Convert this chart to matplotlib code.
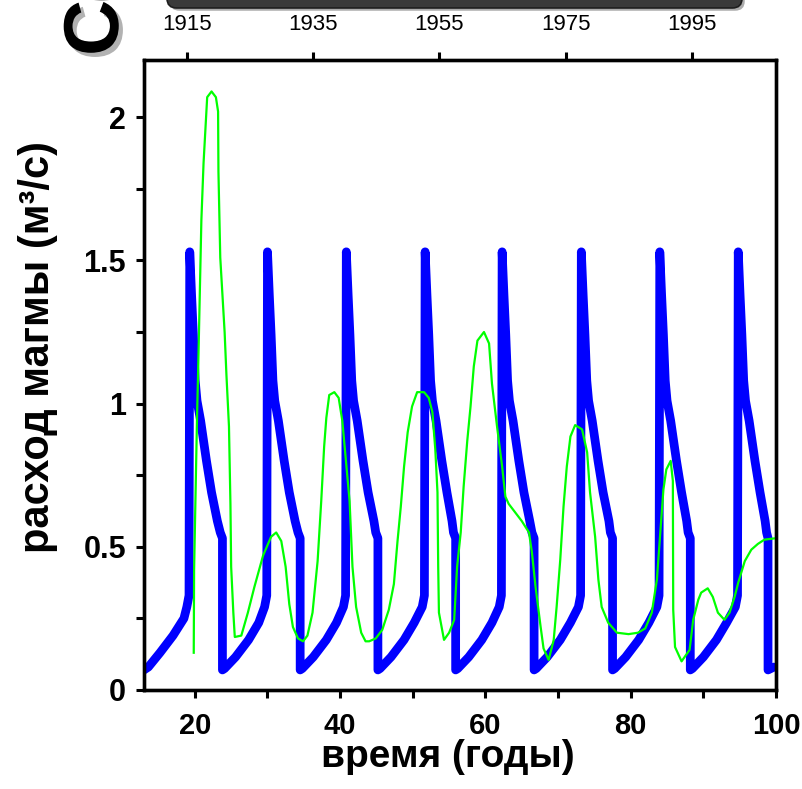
import matplotlib
matplotlib.use('Agg')
import matplotlib.pyplot as plt
import matplotlib.patheffects as pe
from matplotlib.patches import FancyBboxPatch
from matplotlib.ticker import MultipleLocator

# model magma discharge (blue, thick)
blue_t = [13.0, 13.6, 15.2, 17.0, 18.5, 18.9, 19.2,
          19.3, 19.55, 19.8, 20.05, 20.3, 20.8, 21.6, 22.3, 23.1, 23.5, 23.8, 23.8,
          24.1, 25.6, 27.4, 28.8, 29.6, 29.9,
          30.0, 30.25, 30.5, 30.75, 31.0, 31.5, 32.3, 33.0, 33.8, 34.2, 34.5, 34.5,
          34.8, 36.3, 38.1, 39.5, 40.45, 40.75,
          40.85, 41.1, 41.35, 41.6, 41.85, 42.35, 43.15, 43.85, 44.65, 44.9, 45.2, 45.2,
          45.5, 47.0, 48.8, 50.2, 51.3, 51.6,
          51.7, 51.95, 52.2, 52.45, 52.7, 53.2, 54.0, 54.7, 55.4, 55.6, 55.9, 55.9,
          56.2, 57.7, 59.5, 60.9, 61.9, 62.2,
          62.3, 62.55, 62.8, 63.05, 63.3, 63.8, 64.6, 65.3, 66.1, 66.4, 66.7, 66.7,
          67.0, 68.5, 70.3, 71.7, 72.8, 73.1,
          73.2, 73.45, 73.7, 73.95, 74.2, 74.7, 75.5, 76.2, 77.0, 77.2, 77.5, 77.5,
          77.8, 79.3, 81.1, 82.5, 83.6, 83.9,
          84.0, 84.25, 84.5, 84.75, 85.0, 85.5, 86.3, 87.0, 87.7, 87.9, 88.2, 88.2,
          88.5, 90.0, 91.8, 93.2, 94.4, 94.7,
          94.8, 95.05, 95.3, 95.55, 95.8, 96.3, 97.1, 97.8, 98.5, 98.7, 98.9, 98.9,
          99.3, 99.7]
blue_q = [0.07, 0.08, 0.13, 0.19, 0.25, 0.29, 0.33,
          1.53, 1.38, 1.24, 1.08, 1.01, 0.94, 0.80, 0.69, 0.59, 0.55, 0.53, 0.07,
          0.075, 0.115, 0.175, 0.235, 0.29, 0.33,
          1.53, 1.38, 1.24, 1.08, 1.01, 0.94, 0.80, 0.69, 0.59, 0.55, 0.53, 0.07,
          0.075, 0.115, 0.175, 0.235, 0.29, 0.33,
          1.53, 1.38, 1.24, 1.08, 1.01, 0.94, 0.80, 0.69, 0.59, 0.55, 0.53, 0.07,
          0.075, 0.115, 0.175, 0.235, 0.29, 0.33,
          1.53, 1.38, 1.24, 1.08, 1.01, 0.94, 0.80, 0.69, 0.59, 0.55, 0.53, 0.07,
          0.075, 0.115, 0.175, 0.235, 0.29, 0.33,
          1.53, 1.38, 1.24, 1.08, 1.01, 0.94, 0.80, 0.69, 0.59, 0.55, 0.53, 0.07,
          0.075, 0.115, 0.175, 0.235, 0.29, 0.33,
          1.53, 1.38, 1.24, 1.08, 1.01, 0.94, 0.80, 0.69, 0.59, 0.55, 0.53, 0.07,
          0.075, 0.115, 0.175, 0.235, 0.29, 0.33,
          1.53, 1.38, 1.24, 1.08, 1.01, 0.94, 0.80, 0.69, 0.59, 0.55, 0.53, 0.07,
          0.075, 0.115, 0.175, 0.235, 0.29, 0.33,
          1.53, 1.38, 1.24, 1.08, 1.01, 0.94, 0.80, 0.69, 0.59, 0.55, 0.53, 0.07,
          0.075, 0.08]

# observed discharge (green, thin)
green_t = [19.85, 19.9, 20.1, 20.3, 20.46, 20.9, 21.2, 21.7, 22.3, 22.9, 23.2, 23.25,
           23.5, 24.1, 24.35, 24.7, 24.9, 25.0, 25.3, 25.5, 26.4, 27.3, 28.2, 29.4,
           30.5, 31.2, 31.9, 32.5, 33.0, 33.5, 34.2, 34.9, 35.5, 36.2, 36.9, 37.4,
           37.8, 38.1, 38.5, 39.2, 39.8, 40.3, 40.8, 41.3, 41.7, 42.2, 42.9, 43.5,
           44.0, 44.9, 45.8, 46.7, 47.4, 47.9, 48.35, 48.8, 49.3, 49.9, 50.6, 51.55,
           52.2, 52.7, 53.1, 53.4, 53.5, 53.6, 54.3, 55.0, 55.7, 56.1, 56.6, 57.0,
           57.5, 57.95, 58.4, 58.9, 59.8, 60.5, 60.9, 61.6, 62.3, 62.75, 63.2, 64.1,
           65.0, 66.0, 66.4, 66.9, 67.6, 68.0, 68.7, 69.4, 69.8, 70.3, 70.75, 71.2,
           71.7, 72.35, 73.3, 74.0, 74.4, 75.1, 75.55, 76.0, 76.9, 78.1, 79.7, 81.0,
           82.0, 82.9, 83.6, 84.0, 84.5, 84.9, 85.5, 85.8, 85.85, 86.1, 87.0, 88.1,
           88.6, 89.3, 89.7, 90.6, 91.3, 92.0, 92.9, 93.6, 94.3, 94.8, 95.7, 96.6,
           97.5, 98.4, 100.0]
green_q = [0.13, 0.42, 0.69, 0.95, 1.12, 1.64, 1.84, 2.07, 2.09, 2.07, 2.02, 1.81,
           1.51, 1.25, 1.10, 0.92, 0.65, 0.43, 0.27, 0.185, 0.19, 0.27, 0.36, 0.47,
           0.535, 0.55, 0.52, 0.43, 0.30, 0.22, 0.18, 0.17, 0.19, 0.27, 0.45, 0.66,
           0.85, 0.95, 1.03, 1.04, 1.02, 0.94, 0.80, 0.66, 0.43, 0.29, 0.20, 0.17,
           0.17, 0.18, 0.21, 0.28, 0.37, 0.52, 0.64, 0.78, 0.90, 0.99, 1.04, 1.04,
           1.02, 0.97, 0.84, 0.69, 0.43, 0.27, 0.175, 0.20, 0.245, 0.43, 0.55, 0.71,
           0.87, 0.99, 1.13, 1.22, 1.25, 1.21, 1.07, 0.92, 0.78, 0.675, 0.65, 0.62,
           0.59, 0.55, 0.48, 0.36, 0.22, 0.145, 0.105, 0.175, 0.29, 0.455, 0.64, 0.78,
           0.885, 0.925, 0.91, 0.83, 0.69, 0.535, 0.385, 0.29, 0.235, 0.20, 0.195, 0.20,
           0.215, 0.27, 0.385, 0.525, 0.70, 0.77, 0.80, 0.73, 0.28, 0.15, 0.10, 0.14,
           0.245, 0.315, 0.34, 0.355, 0.325, 0.27, 0.245, 0.27, 0.325, 0.375, 0.45, 0.49,
           0.51, 0.525, 0.53]

x_ticks = [20, 40, 60, 80, 100]
y_ticks = [0, 0.5, 1, 1.5, 2]
y_labels = ['0', '0.5', '1', '1.5', '2']
year_ticks = [1915, 1935, 1955, 1975, 1995]
year_span = (1908.24, 2008.3)   # calendar years matching x = 13 .. 100

plt.rcParams['font.family'] = ['Liberation Sans', 'DejaVu Sans']

fig = plt.figure(figsize=(8.03, 7.89), dpi=100)
ax = fig.add_axes([0.1793, 0.1255, 0.7871, 0.7985])

ax.plot(blue_t, blue_q, color='#0000ff', lw=6.3, solid_joinstyle='round',
        solid_capstyle='round', zorder=2)
ax.plot(green_t, green_q, color='#00ff00', lw=1.6, zorder=3)

ax.set_xlim(13, 100)
ax.set_ylim(0, 2.2)
ax.set_xticks(x_ticks)
ax.set_xticklabels([str(v) for v in x_ticks], fontsize=21, fontweight='bold')
ax.xaxis.set_minor_locator(MultipleLocator(10))
ax.set_yticks(y_ticks)
ax.set_yticklabels(y_labels, fontsize=22, fontweight='bold')
ax.yaxis.set_minor_locator(MultipleLocator(0.25))
ax.tick_params(which='both', direction='out', width=2.2, length=6)
ax.tick_params(axis='x', which='major', pad=10)
ax.tick_params(axis='y', which='major', pad=7)
for s in ax.spines.values():
    s.set_linewidth(2.4)

ax.set_xlabel('время (годы)', fontsize=28, fontweight='bold', va='top')
ax.xaxis.set_label_coords(0.481, -0.078)
ax.set_ylabel('расход магмы (м³/с)', fontsize=30, fontweight='bold')
ax.yaxis.set_label_coords(-0.136, 0.544)

# calendar years on top
top = ax.twiny()
top.set_xlim(*year_span)
top.set_xticks(year_ticks)
top.set_xticklabels([str(v) for v in year_ticks], fontsize=16)
top.tick_params(direction='out', width=2.2, length=6, pad=12)
for s in top.spines.values():
    s.set_linewidth(2.4)

# bits of the slide around the chart
bar = FancyBboxPatch((0.208, 0.9899), 0.716, 0.06, transform=fig.transFigure,
                     boxstyle='round,pad=0,rounding_size=0.012',
                     facecolor='#3a3a3a', edgecolor='#1e1e1e', lw=1.2,
                     path_effects=[pe.SimplePatchShadow(offset=(2, -2), alpha=0.35), pe.Normal()])
fig.patches.append(bar)
fig.text(118 / 803, 1 - 56 / 789, 'Со', rotation=90, rotation_mode='anchor',
         ha='left', va='baseline', fontsize=56, fontweight='bold', color='black',
         path_effects=[pe.withSimplePatchShadow(offset=(3, -3), alpha=0.3)])

fig.savefig('out.png', dpi=100)
